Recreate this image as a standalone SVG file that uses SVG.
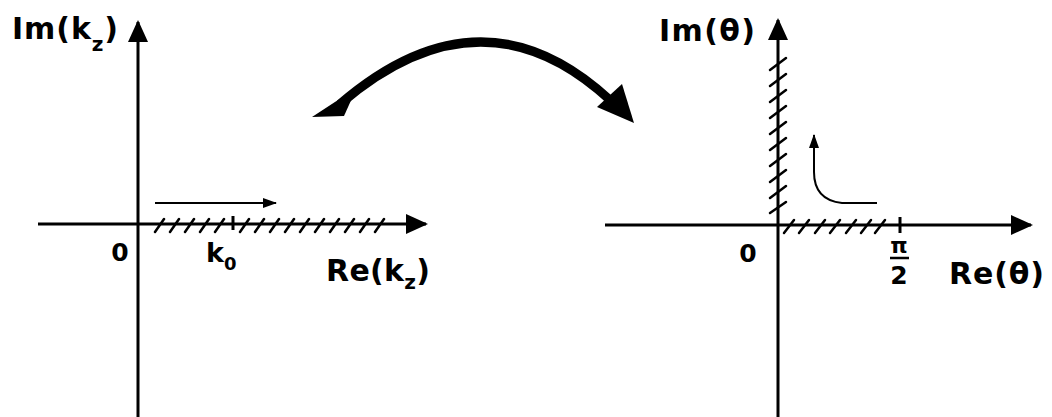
<svg xmlns="http://www.w3.org/2000/svg" width="1052" height="417" viewBox="0 0 1052 417">
<style>
.ax{stroke:#000;stroke-width:3;fill:none}
.th{stroke:#000;stroke-width:2;fill:none}
.ht{stroke:#000;stroke-width:2.5;fill:none;stroke-linecap:round}
.t{font-family:"DejaVu Sans",sans-serif;font-weight:bold;fill:#000}
</style>
<defs>
<marker id="big" markerWidth="22" markerHeight="20" refX="20" refY="10" orient="auto" markerUnits="userSpaceOnUse"><path d="M0,0 L22,10 L0,20 Z" fill="#000"/></marker>
<marker id="sm" markerWidth="14" markerHeight="10" refX="13" refY="5" orient="auto" markerUnits="userSpaceOnUse"><path d="M0,0 L14,5 L0,10 Z" fill="#000"/></marker>
</defs>
<rect width="1052" height="417" fill="#fff"/>
<g id="connectors">
<line class="ax" x1="138" y1="417" x2="138" y2="22" marker-end="url(#big)"/>
<line class="ax" x1="38" y1="224" x2="426" y2="224" marker-end="url(#big)"/>
<line class="ax" x1="778" y1="417" x2="778" y2="20" marker-end="url(#big)"/>
<line class="ax" x1="605" y1="225" x2="1031" y2="225" marker-end="url(#big)"/>
<line class="th" x1="155" y1="203" x2="276" y2="203" marker-end="url(#sm)"/>
<path class="th" d="M877,203 L842,203 Q814,200 814,172 L814,135" marker-end="url(#sm)"/>
<path d="M340,104 Q482,-18 610,100" stroke="#000" stroke-width="9" fill="none"/>
<path d="M634,123 L597,107 L622,84 Z" fill="#000"/>
<path d="M312,117 L344,116 L353,96 L338,100 Z" fill="#000"/>
</g>
<g id="hatch-kz">
<path class="ht" d="M155,232 L164,219 M170,232 L179,219 M185,232 L194,219 M200,232 L209,219 M215,232 L224,219 M240,232 L249,219 M255,232 L264,219 M270,232 L279,219 M285,232 L294,219 M300,232 L309,219 M315,232 L324,219 M330,232 L339,219 M345,232 L354,219 M360,232 L369,219 M375,232 L384,219"/>
<line class="ax" x1="233" y1="216" x2="233" y2="230"/>
</g>
<g id="hatch-theta">
<path class="ht" d="M770,70 L786,58 M770,86 L786,74 M770,102 L786,90 M770,118 L786,106 M770,134 L786,122 M770,150 L786,138 M770,166 L786,154 M770,182 L786,170 M770,198 L786,186 M770,213 L786,202"/>
<path class="ht" d="M784,233 L794,220 M799,233 L809,220 M815,233 L825,220 M830,233 L840,220 M846,233 L856,220 M861,233 L871,220 M875,233 L885,220"/>
<line class="ax" x1="900" y1="217" x2="900" y2="233"/>
</g>
<g id="labels-kz">
<text class="t" x="12" y="39" font-size="30" textLength="106">Im(k<tspan font-size="20" dy="12">z</tspan><tspan dy="-12">)</tspan></text>
<text class="t" x="120" y="261" font-size="25" text-anchor="middle">0</text>
<text class="t" x="206" y="262" font-size="27">k<tspan font-size="18" dy="8">0</tspan></text>
<text class="t" x="326" y="281" font-size="30" textLength="104">Re(k<tspan font-size="20" dy="8">z</tspan><tspan dy="-8">)</tspan></text>
</g>
<g id="labels-theta">
<text class="t" x="659" y="41" font-size="30" textLength="96">Im(θ)</text>
<text class="t" x="748" y="262" font-size="25" text-anchor="middle">0</text>
<text class="t" x="899" y="253" font-size="22" text-anchor="middle">π</text>
<line x1="890" y1="258" x2="909" y2="258" stroke="#000" stroke-width="2.5"/>
<text class="t" x="899" y="284" font-size="25" text-anchor="middle">2</text>
<text class="t" x="949" y="284" font-size="30" textLength="95">Re(θ)</text>
</g>
</svg>
